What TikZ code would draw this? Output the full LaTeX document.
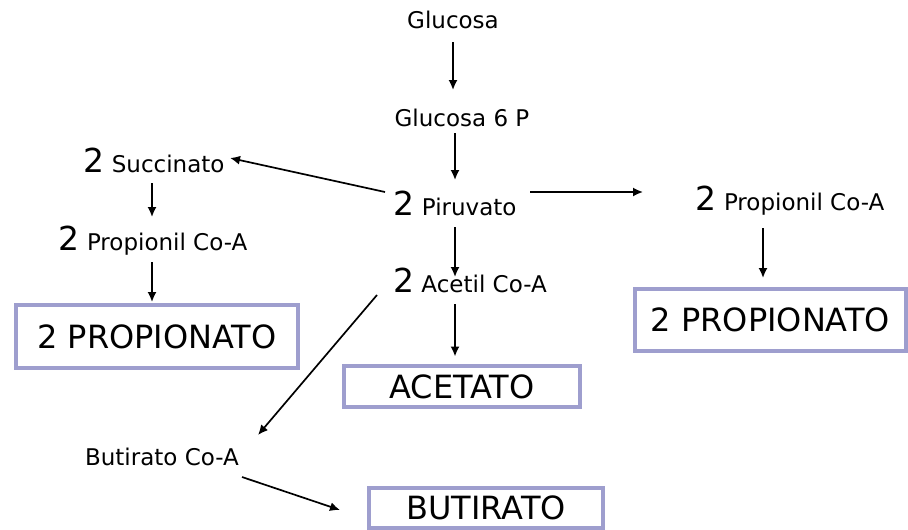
\documentclass[tikz,border=0pt]{standalone}
\usepackage{fontspec}
\setmainfont{DejaVu Sans}
\usetikzlibrary{arrows.meta,calc}
\newcommand{\bigtwo}{{\fontsize{33}{33}\selectfont 2}}
\definecolor{boxpurple}{RGB}{158,158,206}
\tikzset{
  word/.style={inner sep=0pt, text height=17pt, text depth=5pt, font=\fontsize{23}{23}\selectfont},
  endbox/.style={draw=boxpurple, line width=4.5pt, inner sep=0pt, font=\fontsize{32}{32}\selectfont},
  arr/.style={-{Latex[length=10pt,width=9pt]}, line width=1.7pt}
}
\begin{document}
\begin{tikzpicture}[x=1pt,y=-1pt]
\useasboundingbox (0,0) rectangle (908,530);
% word nodes
\node[word] (glu) at (453,22) {Glucosa};
\node[word] (g6p) at (462,120) {Glucosa 6 P};
\node[word] (piru) at (455,209) {\bigtwo\ Piruvato};
\node[word] (succ) at (154,166) {\bigtwo\ Succinato};
\node[word] (propL) at (153,244) {\bigtwo\ Propionil Co-A};
\node[word] (acet) at (470,286) {\bigtwo\ Acetil Co-A};
\node[word] (propR) at (790,204) {\bigtwo\ Propionil Co-A};
\node[word] (but) at (162,459) {Butirato Co-A};
% boxes
\node[endbox, minimum width=282pt, minimum height=63pt] (boxL) at (157,336.5) {2 PROPIONATO};
\node[endbox, minimum width=271pt, minimum height=62pt] (boxR) at (770.5,320) {2 PROPIONATO};
\node[endbox, minimum width=236pt, minimum height=41pt] (boxA) at (462,386.5) {ACETATO};
\node[endbox, minimum width=234pt, minimum height=40pt] (boxB) at (486,508) {BUTIRATO};
% connectors
\draw[arr] ($(glu)+(0,20)$) -- ($(g6p)+(-9,-30)$);
\draw[arr] ($(g6p)+(-7,13)$) -- ($(piru)+(0,-29)$);
\draw[arr] ($(piru)+(-70,-17)$) -- ($(succ)+(76,-8)$);
\draw[arr] ($(succ)+(-2,17)$) -- ($(propL)+(-1,-27)$);
\draw[arr] ($(propL)+(-1,18)$) -- ($(boxL)+(-5,-34.5)$);
\draw[arr] ($(piru)+(75,-17)$) -- ($(propR)+(-147,-12)$);
\draw[arr] ($(propR)+(-27,24)$) -- ($(boxR)+(-7.5,-42)$);
\draw[arr] ($(piru)+(0,18)$) -- ($(acet)+(-15,-9)$);
\draw[arr] ($(acet)+(-15,18)$) -- ($(boxA)+(-7,-30)$);
\draw[arr] ($(acet)+(-93,9)$) -- ($(but)+(96,-24)$);
\draw[arr] ($(but)+(80,18)$) -- ($(boxB)+(-146,2)$);
\end{tikzpicture}
\end{document}
